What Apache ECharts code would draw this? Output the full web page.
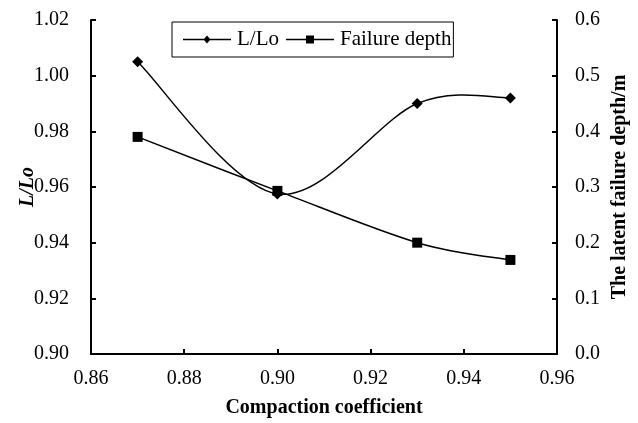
<!DOCTYPE html>
<html>
<head>
<meta charset="utf-8">
<script src="https://cdn.jsdelivr.net/npm/echarts@6/dist/echarts.min.js"></script>
<style>
  html, body { margin: 0; padding: 0; background: #fff; }
  #chart { width: 638px; height: 423px; }
</style>
</head>
<body>
<div id="chart"></div>
<script>
// Compaction coefficient vs. L/Lo ratio and latent failure depth
const compaction = [0.87, 0.90, 0.93, 0.95];
const ratioLLo = [1.005, 0.9575, 0.990, 0.992];
const failureDepth = [0.39, 0.293, 0.20, 0.169];

const xTicks = { min: 0.86, max: 0.96, step: 0.02 };
const leftTicks = { min: 0.90, max: 1.02, step: 0.02 };
const rightTicks = { min: 0.0, max: 0.6, step: 0.1 };

const FONT = '"Liberation Serif", "Times New Roman", serif';
const INK = '#000';

const pairs = (xs, ys) => xs.map((x, i) => [x, ys[i]]);

// Legend glyphs: a short rule with the series marker in the middle (48 x 8 box)
const ICON_DIAMOND = 'path://M0,3.2 H48 V4.8 H0 Z M24,0 L27.5,4 L24,8 L20.5,4 Z';
const ICON_SQUARE = 'path://M0,3.2 H48 V4.8 H0 Z M20,0 H28 V8 H20 Z';

// Smooth curve through the points (cardinal spline, tension 1/6), drawn
// segment by segment in pixel space from the axis scales.
function splineSeries(name, yAxisIndex, xs, ys) {
  return {
    name: name,
    type: 'custom',
    yAxisIndex: yAxisIndex,
    data: pairs(xs, ys),
    z: 2,
    silent: true,
    itemStyle: { color: INK },
    renderItem: function (params, api) {
      const i = params.dataIndex;
      const n = xs.length;
      if (i >= n - 1) return null;
      const clampIdx = k => Math.max(0, Math.min(n - 1, k));
      const p = k => api.coord([xs[clampIdx(k)], ys[clampIdx(k)]]);
      const p0 = p(i - 1), p1 = p(i), p2 = p(i + 1), p3 = p(i + 2);
      return {
        type: 'bezierCurve',
        shape: {
          x1: p1[0], y1: p1[1],
          cpx1: p1[0] + (p2[0] - p0[0]) / 6, cpy1: p1[1] + (p2[1] - p0[1]) / 6,
          cpx2: p2[0] - (p3[0] - p1[0]) / 6, cpy2: p2[1] - (p3[1] - p1[1]) / 6,
          x2: p2[0], y2: p2[1]
        },
        style: { fill: null, stroke: INK, lineWidth: 1.5 }
      };
    }
  };
}

function markerSeries(name, yAxisIndex, xs, ys, symbol, size) {
  return {
    name: name,
    type: 'line',
    yAxisIndex: yAxisIndex,
    data: pairs(xs, ys),
    symbol: symbol,
    symbolSize: size,
    z: 3,
    itemStyle: { color: INK },
    lineStyle: { opacity: 0 }
  };
}

const axisCommon = {
  axisLine: { show: true, onZero: false, lineStyle: { color: INK, width: 2 } },
  axisTick: { show: true, inside: true, length: 5, lineStyle: { color: INK, width: 2 } },
  splitLine: { show: false },
  axisLabel: { color: INK, fontFamily: FONT, fontSize: 20 }
};

const chart = echarts.init(document.getElementById('chart'), null, { renderer: 'canvas' });
chart.setOption({
  animation: false,
  backgroundColor: '#fff',
  grid: { left: 91, right: 81, top: 20, bottom: 69, containLabel: false, outerBoundsMode: 'none' },
  legend: {
    data: [
      { name: 'L/Lo', icon: ICON_DIAMOND, itemStyle: { color: INK } },
      { name: 'Failure depth', icon: ICON_SQUARE, itemStyle: { color: INK } }
    ],
    left: 172,
    top: 22,
    padding: [7, 2, 7, 11],
    itemWidth: 48,
    itemHeight: 8,
    itemGap: 7,
    borderColor: INK,
    borderWidth: 1,
    borderRadius: 0,
    textStyle: { color: INK, fontFamily: FONT, fontSize: 21, padding: [0, 0, 0, 1] }
  },
  xAxis: Object.assign({}, axisCommon, {
    type: 'value',
    min: xTicks.min,
    max: xTicks.max,
    interval: xTicks.step,
    name: 'Compaction coefficient',
    nameLocation: 'middle',
    nameGap: 44,
    nameTextStyle: { color: INK, fontFamily: FONT, fontSize: 20, fontWeight: 'bold' },
    axisLabel: Object.assign({}, axisCommon.axisLabel, {
      margin: 15,
      formatter: v => v.toFixed(2)
    })
  }),
  yAxis: [
    Object.assign({}, axisCommon, {
      type: 'value',
      position: 'left',
      min: leftTicks.min,
      max: leftTicks.max,
      interval: leftTicks.step,
      name: 'L/Lo',
      nameLocation: 'middle',
      nameGap: 53,
      nameMoveOverlap: false,
      nameTextStyle: { color: INK, fontFamily: FONT, fontSize: 20, fontWeight: 'bold', fontStyle: 'italic' },
      axisLabel: Object.assign({}, axisCommon.axisLabel, {
        margin: 22,
        formatter: v => v.toFixed(2)
      })
    }),
    Object.assign({}, axisCommon, {
      type: 'value',
      position: 'right',
      min: rightTicks.min,
      max: rightTicks.max,
      interval: rightTicks.step,
      name: 'The latent failure depth/m',
      nameLocation: 'middle',
      nameGap: 53,
      nameRotate: 90,
      nameMoveOverlap: false,
      nameTextStyle: { color: INK, fontFamily: FONT, fontSize: 20, fontWeight: 'bold' },
      axisLabel: Object.assign({}, axisCommon.axisLabel, {
        margin: 18,
        formatter: v => v.toFixed(1)
      })
    })
  ],
  series: [
    splineSeries('L/Lo', 0, compaction, ratioLLo),
    splineSeries('Failure depth', 1, compaction, failureDepth),
    markerSeries('L/Lo', 0, compaction, ratioLLo, 'diamond', 11),
    markerSeries('Failure depth', 1, compaction, failureDepth, 'rect', 10)
  ]
});
</script>
</body>
</html>
